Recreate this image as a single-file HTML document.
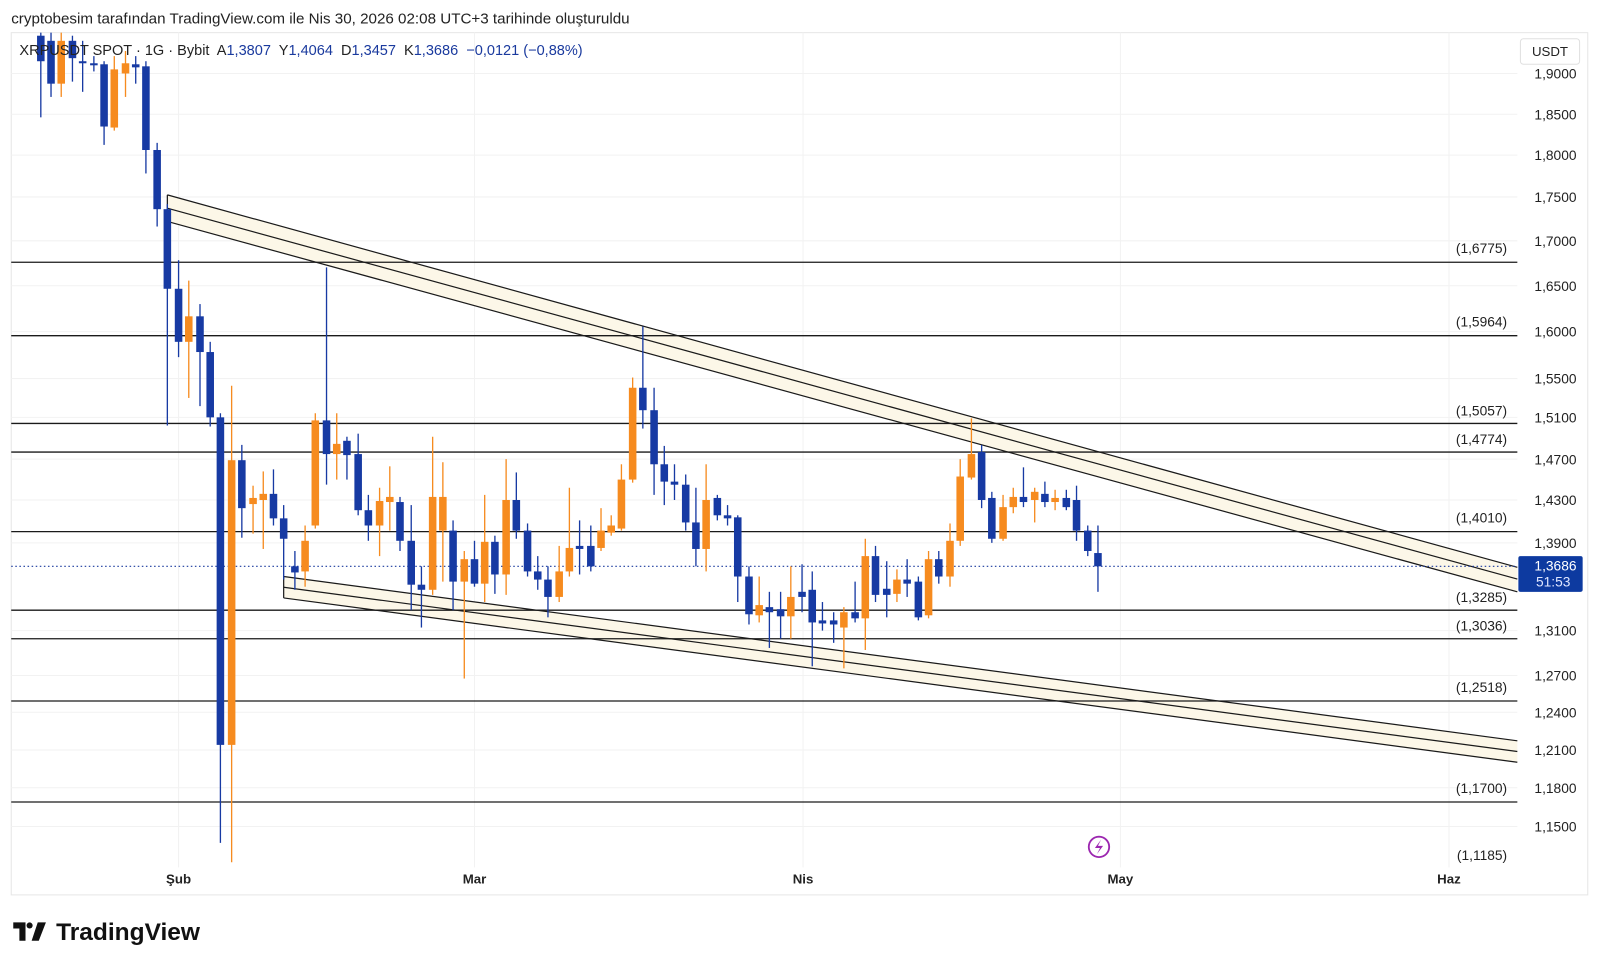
<!DOCTYPE html>
<html><head><meta charset="utf-8"><style>
html,body{margin:0;padding:0;background:#fff;}
svg{display:block;font-family:"Liberation Sans",sans-serif;}
</style></head><body>
<svg id="s" width="1600" height="966" viewBox="0 0 1568 946.7" preserveAspectRatio="none" xmlns="http://www.w3.org/2000/svg">
<rect width="1568" height="947" fill="#fff"/>
<rect x="11" y="32" width="1545" height="845" fill="#fff" stroke="#e6e6e6" stroke-width="1"/>
<g stroke="#f2f2f2" stroke-width="1">
<line x1="175" y1="32" x2="175" y2="850"/><line x1="465" y1="32" x2="465" y2="850"/><line x1="787" y1="32" x2="787" y2="850"/><line x1="1098" y1="32" x2="1098" y2="850"/><line x1="1420" y1="32" x2="1420" y2="850"/>
<line x1="11" y1="72" x2="1487" y2="72"/><line x1="11" y1="112" x2="1487" y2="112"/><line x1="11" y1="152" x2="1487" y2="152"/><line x1="11" y1="193" x2="1487" y2="193"/><line x1="11" y1="236" x2="1487" y2="236"/><line x1="11" y1="280" x2="1487" y2="280"/><line x1="11" y1="325" x2="1487" y2="325"/><line x1="11" y1="371" x2="1487" y2="371"/><line x1="11" y1="409" x2="1487" y2="409"/><line x1="11" y1="450" x2="1487" y2="450"/><line x1="11" y1="490" x2="1487" y2="490"/><line x1="11" y1="532" x2="1487" y2="532"/><line x1="11" y1="618" x2="1487" y2="618"/><line x1="11" y1="662" x2="1487" y2="662"/><line x1="11" y1="698" x2="1487" y2="698"/><line x1="11" y1="735" x2="1487" y2="735"/><line x1="11" y1="772" x2="1487" y2="772"/><line x1="11" y1="810" x2="1487" y2="810"/>
</g>
<polygon points="164,191 1487,556 1487,580 164,217" fill="#fcf7e8"/>
<g stroke="#1a1a1a" stroke-width="1.2" fill="none">
<line x1="164" y1="191" x2="1487" y2="556"/><line x1="164" y1="204" x2="1487" y2="567.5"/><line x1="164" y1="217" x2="1487" y2="580"/><line x1="164" y1="191" x2="164" y2="217"/>
</g>
<polygon points="278,565 1487,726 1487,747 278,586" fill="#fcf7e8"/>
<g stroke="#1a1a1a" stroke-width="1.2" fill="none">
<line x1="278" y1="565" x2="1487" y2="726"/><line x1="278" y1="575.5" x2="1487" y2="736.5"/><line x1="278" y1="586" x2="1487" y2="747"/><line x1="278" y1="565" x2="278" y2="586"/>
</g>
<g stroke="#1a1a1a" stroke-width="1.3">
<line x1="11" y1="257" x2="1487" y2="257"/><line x1="11" y1="329" x2="1487" y2="329"/><line x1="11" y1="415" x2="1487" y2="415"/><line x1="11" y1="443" x2="1487" y2="443"/><line x1="11" y1="521" x2="1487" y2="521"/><line x1="11" y1="598" x2="1487" y2="598"/><line x1="11" y1="626" x2="1487" y2="626"/><line x1="11" y1="687" x2="1487" y2="687"/><line x1="11" y1="786" x2="1487" y2="786"/>
</g>
<line x1="11" y1="555" x2="1487" y2="555" stroke="#1a3a9e" stroke-width="1" stroke-dasharray="1.5,2.5"/>
<g id="c"></g>
<g font-size="13.5" fill="#222" text-anchor="end">
<text x="1477" y="248">(1,6775)</text><text x="1477" y="320">(1,5964)</text><text x="1477" y="407">(1,5057)</text><text x="1477" y="435">(1,4774)</text><text x="1477" y="512">(1,4010)</text><text x="1477" y="590">(1,3285)</text><text x="1477" y="618">(1,3036)</text><text x="1477" y="678">(1,2518)</text><text x="1477" y="777">(1,1700)</text><text x="1477" y="843">(1,1185)</text>
</g>
<g font-size="13.5" fill="#222" text-anchor="end">
<text x="1545" y="77">1,9000</text><text x="1545" y="117">1,8500</text><text x="1545" y="157">1,8000</text><text x="1545" y="198">1,7500</text><text x="1545" y="241">1,7000</text><text x="1545" y="285">1,6500</text><text x="1545" y="330">1,6000</text><text x="1545" y="376">1,5500</text><text x="1545" y="414">1,5100</text><text x="1545" y="455">1,4700</text><text x="1545" y="495">1,4300</text><text x="1545" y="537">1,3900</text><text x="1545" y="623">1,3100</text><text x="1545" y="667">1,2700</text><text x="1545" y="703">1,2400</text><text x="1545" y="740">1,2100</text><text x="1545" y="777">1,1800</text><text x="1545" y="815">1,1500</text>
</g>
<rect x="1488" y="545" width="63" height="35" rx="2" fill="#0d3aa0"/>
<text x="1545" y="559" font-size="13.5" fill="#fff" text-anchor="end">1,3686</text>
<text x="1539" y="575" font-size="13.5" fill="#dfe6ff" text-anchor="end">51:53</text>
<rect x="1490" y="38" width="58" height="25" rx="3" fill="#fff" stroke="#e0e0e0"/>
<text x="1519" y="55" font-size="13" fill="#222" text-anchor="middle">USDT</text>
<g font-size="13" fill="#222" font-weight="bold" text-anchor="middle">
<text x="175" y="866">Şub</text><text x="465" y="866">Mar</text><text x="787" y="866">Nis</text><text x="1098" y="866">May</text><text x="1420" y="866">Haz</text>
</g>
<circle cx="1077" cy="830" r="10" fill="none" stroke="#9c27b0" stroke-width="1.8"/>
<path d="M1079,823 L1073,831 L1078,831 L1075,837 L1081,829 L1076,829 Z" fill="#9c27b0"/>
<text x="11" y="23" font-size="14.5" fill="#222" textLength="606" lengthAdjust="spacingAndGlyphs">cryptobesim tarafından TradingView.com ile Nis 30, 2026 02:08 UTC+3 tarihinde oluşturuldu</text>
<text x="19" y="54" font-size="14.5" fill="#222" xml:space="preserve" textLength="552" lengthAdjust="spacingAndGlyphs">XRPUSDT SPOT · 1G · Bybit  A<tspan fill="#1a3a9e">1,3807</tspan>  Y<tspan fill="#1a3a9e">1,4064</tspan>  D<tspan fill="#1a3a9e">1,3457</tspan>  K<tspan fill="#1a3a9e">1,3686  −0,0121 (−0,88%)</tspan></text>
<g transform="translate(13,902)">
<path d="M0,2 H12 V20 H6 V8 H0 Z" fill="#111"/><circle cx="16" cy="5" r="3" fill="#111"/><path d="M18,20 L24,2 H32 L25,20 Z" fill="#111"/>
</g>
<text x="55" y="921" font-size="24" font-weight="bold" fill="#111" textLength="141" lengthAdjust="spacingAndGlyphs">TradingView</text>
</svg>
<script>
var d=[
[40,'b',35,60,30,115],[50,'b',40,82,30,95],[60,'o',40,82,30,95],[71,'b',40,57,35,80],[81,'b',60,62,40,90],[92,'b',62,64,55,70],[102,'b',63,124,60,142],[112,'o',68,125,55,128],[123,'o',62,72,50,95],[133,'b',63,66,55,82],[143,'b',65,147,60,170],[154,'b',147,205,140,222],[164,'b',205,283,200,417],[175,'b',283,335,255,350],[185,'o',310,335,275,390],[196,'b',310,345,298,398],[206,'b',345,409,335,418],[216,'b',409,730,405,826],[227,'o',451,730,378,845],[237,'b',451,498,436,527],[248,'o',488,494,476,523],[258,'o',484,490,462,538],[268,'b',484,508,460,515],[278,'b',508,528,495,568],[289,'b',555,561,540,578],[299,'o',530,560,515,575],[309,'o',412,515,405,518],[320,'b',412,445,262,475],[330,'o',435,445,405,470],[340,'b',432,446,428,470],[351,'b',445,500,425,505],[361,'b',500,515,485,530],[372,'o',491,515,478,545],[382,'o',487,492,457,520],[392,'b',492,530,487,540],[403,'b',530,573,495,598],[413,'b',573,578,555,615],[424,'o',487,578,428,583],[434,'o',487,520,453,570],[444,'b',520,570,510,598],[455,'o',548,570,540,665],[465,'b',548,572,530,575],[475,'o',531,572,485,590],[485,'b',531,563,525,582],[496,'o',490,563,450,583],[506,'b',490,520,463,528],[517,'b',520,560,513,565],[527,'b',560,568,545,578],[537,'b',568,585,555,605],[548,'o',560,585,535,590],[558,'o',537,560,478,565],[568,'b',535,538,510,563],[579,'b',535,555,515,560],[589,'o',520,537,498,540],[599,'o',515,522,505,525],[609,'o',470,518,455,520],[620,'o',380,470,370,473],[630,'b',380,402,320,420],[641,'b',402,455,380,485],[651,'b',455,472,437,495],[661,'b',472,475,455,490],[672,'b',475,512,465,520],[682,'b',512,538,478,555],[692,'o',490,538,455,560],[703,'b',488,505,485,510],[713,'b',505,508,495,515],[723,'b',507,565,505,590],[734,'b',565,602,555,612],[744,'o',593,603,565,610],[754,'b',595,600,580,635],[765,'b',597,604,580,626],[775,'o',585,604,555,626],[786,'b',580,585,553,600],[796,'b',578,610,560,653],[806,'b',608,611,590,618],[817,'b',608,612,600,630],[827,'o',600,615,595,655],[838,'b',600,606,570,610],[848,'o',545,606,528,637],[858,'b',545,583,535,590],[869,'b',577,583,550,605],[879,'o',568,582,558,590],[889,'b',568,572,548,585],[900,'b',570,605,565,608],[910,'o',548,603,540,606],[920,'b',548,565,540,572],[931,'o',530,565,513,575],[941,'o',467,530,450,535],[952,'o',445,468,410,470],[962,'b',443,490,436,498],[972,'b',488,528,482,532],[983,'o',497,528,485,530],[993,'o',487,497,478,503],[1003,'b',487,492,458,497],[1014,'o',482,490,478,512],[1024,'b',484,492,472,497],[1034,'o',488,492,480,500],[1045,'b',488,497,480,500],[1055,'b',490,520,476,530],[1066,'b',520,540,515,545],[1076,'b',542,555,515,580]];
var g=document.getElementById('c'),h='';
d.forEach(function(c){var col=c[1]=='b'?'#173aa3':'#f68b1f';var t=Math.max(c[2],32),b=Math.max(c[3],t+2),hi=Math.max(c[4],32);
h+='<line x1="'+c[0]+'" y1="'+hi+'" x2="'+c[0]+'" y2="'+c[5]+'" stroke="'+col+'" stroke-width="1.3"/>';
h+='<rect x="'+(c[0]-3.7)+'" y="'+t+'" width="7.4" height="'+(b-t)+'" fill="'+col+'"/>';});
g.innerHTML=h;
</script>
</body></html>
